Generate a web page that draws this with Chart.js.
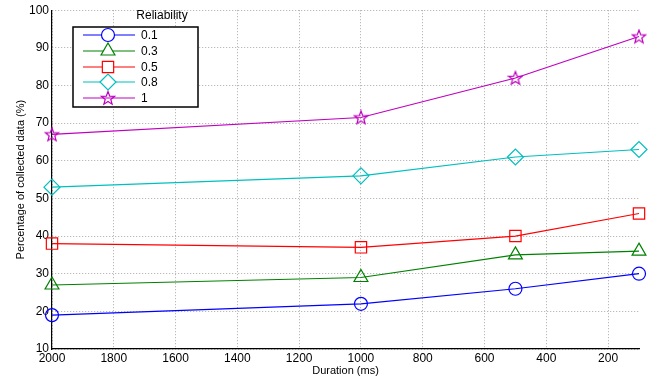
<!DOCTYPE html>
<html lang="en">
<head>
<meta charset="UTF-8">
<title>Reliability vs duration</title>
<script src="https://cdn.jsdelivr.net/npm/chart.js"></script>
<style>
  html, body { margin: 0; padding: 0; background: #fff; }
  #wrap { width: 665px; height: 385px; }
</style>
</head>
<body>
<div id="wrap"><canvas id="chart" width="665" height="385"></canvas></div>
<script>
// data
const durations = [2000, 1000, 500, 100];
const reliabilityLabels = ['0.1', '0.3', '0.5', '0.8', '1'];
const rel01 = [19, 22, 26, 30];
const rel03 = [27, 29, 35, 36];
const rel05 = [38, 37, 40, 46];
const rel08 = [53, 56, 61, 63];
const rel10 = [67, 71.5, 82, 93];
const xTicks = [2000, 1800, 1600, 1400, 1200, 1000, 800, 600, 400, 200];

// 5 point star marker, like the MATLAB pentagram
function makeStar(color, size) {
    const c = document.createElement('canvas');
    c.width = size; c.height = size;
    const g = c.getContext('2d');
    const cx = size / 2, cy = size / 2 + 0.5, R = size / 2 - 1, r = R * 0.42;
    g.beginPath();
    for (let i = 0; i < 10; i++) {
        const a = -Math.PI / 2 + i * Math.PI / 5;
        const rr = i % 2 === 0 ? R : r;
        const px = cx + rr * Math.cos(a), py = cy + rr * Math.sin(a);
        if (i === 0) g.moveTo(px, py); else g.lineTo(px, py);
    }
    g.closePath();
    g.strokeStyle = color;
    g.lineWidth = 1.2;
    g.stroke();
    return c;
}

const series = [
    { data: rel01, color: '#0000ff', style: 'circle', radius: 6.5 },
    { data: rel03, color: '#008000', style: 'triangle', radius: 8 },
    { data: rel05, color: '#ff0000', style: 'rect', radius: 8 },
    { data: rel08, color: '#00bfbf', style: 'rectRot', radius: 8 },
    { data: rel10, color: '#bf00bf', style: makeStar('#bf00bf', 16), radius: 7 }
];

const datasets = series.map((s, i) => ({
    label: reliabilityLabels[i],
    data: durations.map((d, j) => ({ x: d, y: s.data[j] })),
    borderColor: s.color,
    backgroundColor: 'rgba(0,0,0,0)',
    borderWidth: 1.2,
    pointStyle: s.style,
    pointRadius: s.radius,
    pointBorderColor: s.color,
    pointBackgroundColor: 'rgba(0,0,0,0)',
    pointBorderWidth: 1.2,
    tension: 0,
    clip: false
}));

// legend box drawn inside the plot like the original
const boxLegend = {
    id: 'boxLegend',
    afterDraw(chart) {
        const ctx = chart.ctx;
        ctx.save();
        ctx.font = '12px "Liberation Sans", Arial, sans-serif';
        ctx.fillStyle = '#000';
        ctx.textAlign = 'center';
        ctx.textBaseline = 'middle';
        ctx.fillText('Reliability', 162, 16);
        ctx.fillStyle = '#fff';
        ctx.fillRect(73, 27, 125, 80);
        ctx.strokeStyle = '#000';
        ctx.lineWidth = 1.5;
        ctx.strokeRect(73, 27, 125, 80);
        const rows = [35, 51, 67, 82, 98];
        chart.data.datasets.forEach((ds, i) => {
            const y = rows[i];
            ctx.strokeStyle = ds.borderColor;
            ctx.lineWidth = 1.2;
            ctx.beginPath();
            ctx.moveTo(83, y);
            ctx.lineTo(135, y);
            ctx.stroke();
            ctx.fillStyle = '#fff';
            Chart.helpers.drawPoint(ctx, {
                pointStyle: ds.pointStyle,
                radius: ds.pointRadius,
                borderWidth: 1.2,
                rotation: 0
            }, 108, y);
            ctx.fillStyle = '#000';
            ctx.textAlign = 'left';
            ctx.fillText(ds.label, 141, y + 1);
        });
        ctx.restore();
    }
};

const font = { family: '"Liberation Sans", Arial, sans-serif', size: 12 };
const titleFont = { family: font.family, size: 11 };

new Chart(document.getElementById('chart').getContext('2d'), {
    type: 'line',
    data: { datasets: datasets },
    options: {
        responsive: false,
        animation: false,
        layout: { padding: { left: 0, right: 26, top: 8, bottom: 0 } },
        plugins: { legend: { display: false }, tooltip: { enabled: false } },
        scales: {
            x: {
                type: 'linear',
                reverse: true,
                min: 100,
                max: 2000,
                afterBuildTicks: axis => { axis.ticks = xTicks.map(v => ({ value: v })); },
                afterFit: axis => { axis.height = 36; },
                border: { display: true, color: '#000', width: 1.2, dash: [1, 2] },
                grid: { color: '#aaaaaa', lineWidth: 1, drawTicks: false },
                ticks: { color: '#000', font: font, padding: 2, maxRotation: 0, autoSkip: false,
                         callback: v => String(v) },
                title: { display: true, text: 'Duration (ms)', color: '#000', font: titleFont, padding: { top: 0, bottom: 7 } }
            },
            y: {
                min: 10,
                max: 100,
                ticks: { stepSize: 10, color: '#000', font: font, padding: 3 },
                afterFit: axis => { axis.width = 52; },
                border: { display: true, color: '#000', width: 1.2, dash: [1, 2] },
                grid: { color: '#aaaaaa', lineWidth: 1, drawTicks: false },
                title: { display: true, text: 'Percentage of collected data (%)', color: '#000', font: titleFont, padding: { top: 14, bottom: 0 } }
            }
        }
    },
    plugins: [boxLegend]
});
</script>
</body>
</html>
